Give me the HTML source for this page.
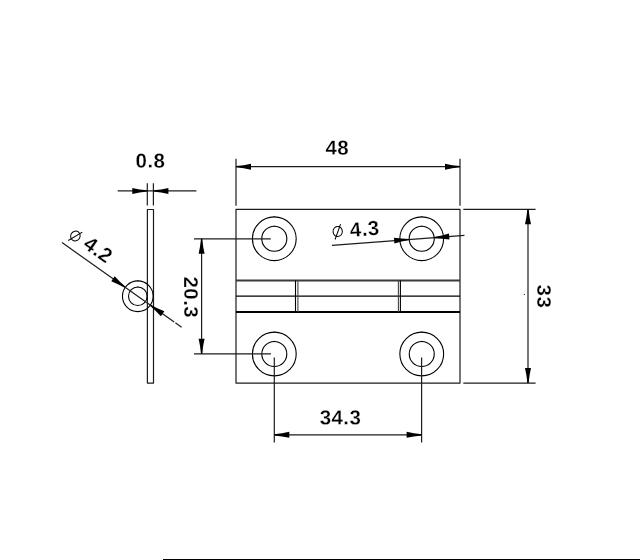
<!DOCTYPE html>
<html>
<head>
<meta charset="utf-8">
<title>Hinge drawing</title>
<style>
html,body{margin:0;padding:0;background:#fff;}
body{width:640px;height:560px;overflow:hidden;position:relative;}
svg{position:absolute;left:0;top:0;display:block;will-change:transform;}
text{font-family:"Liberation Sans",sans-serif;font-weight:bold;font-size:20.5px;fill:#000;stroke:#fff;stroke-width:0.28px;paint-order:fill stroke;letter-spacing:0.45px;}
.l{stroke:#1c1c1c;stroke-width:1.2;fill:none;}
.t{stroke:#000;stroke-width:1.1;fill:none;}
.k{stroke:#000;stroke-width:2;fill:none;}
.a{fill:#000;stroke:none;}
</style>
</head>
<body>
<svg width="640" height="560" viewBox="0 0 640 560">
<defs>
<path id="ah" d="M0 -0.6 Q8 -1.35 15 -3 L15 3 Q8 1.35 0 0.6 Z"/>
</defs>
<rect x="0" y="0" width="640" height="560" fill="#fff"/>

<!-- bottom border line -->
<line x1="163" y1="559.5" x2="640" y2="559.5" stroke="#000" stroke-width="1"/>

<!-- hinge front view -->
<rect class="l" x="236" y="209.35" width="224" height="173.7" stroke-linejoin="round"/>
<line class="k" x1="236" y1="280.6" x2="460" y2="280.6" style="stroke:#3a3a3a"/>
<line class="t" x1="236" y1="296.1" x2="460" y2="296.1"/>
<line class="k" x1="236" y1="311.9" x2="460" y2="311.9"/>
<line class="t" x1="295.5" y1="280.6" x2="295.5" y2="311.9"/>
<line class="t" x1="297.9" y1="280.6" x2="297.9" y2="311.9" style="stroke:#444"/>
<line class="t" x1="398.4" y1="280.6" x2="398.4" y2="311.9" style="stroke:#444"/>
<line class="t" x1="400.4" y1="280.6" x2="400.4" y2="311.9"/>

<!-- holes -->
<g class="t">
<circle cx="274.3" cy="238.75" r="21.9"/><circle cx="274.3" cy="238.75" r="12.55"/>
<circle cx="421.7" cy="238.75" r="21.9"/><circle cx="421.7" cy="238.75" r="12.55"/>
<circle cx="274.3" cy="354" r="21.9"/><circle cx="274.3" cy="354" r="12.5"/>
<circle cx="421.75" cy="354" r="21.9"/><circle cx="421.75" cy="354" r="12.5"/>
</g>

<g fill="#000" opacity="0.55"><rect x="273.65" y="216.20" width="1.3" height="1.3"/><rect x="273.65" y="225.60" width="1.3" height="1.3"/><rect x="421.05" y="216.20" width="1.3" height="1.3"/><rect x="421.05" y="225.60" width="1.3" height="1.3"/><rect x="273.65" y="331.45" width="1.3" height="1.3"/><rect x="273.65" y="340.85" width="1.3" height="1.3"/><rect x="421.10" y="331.45" width="1.3" height="1.3"/><rect x="421.10" y="340.85" width="1.3" height="1.3"/><rect x="137.15" y="280.25" width="1.3" height="1.3"/><rect x="137.15" y="286.30" width="1.3" height="1.3"/></g>
<!-- dim 48 -->
<line class="l" x1="236" y1="158.8" x2="236" y2="205.8"/>
<line class="l" x1="460" y1="158.8" x2="460" y2="205.8"/>
<line class="l" x1="236" y1="166.7" x2="460" y2="166.7"/>
<use class="a" href="#ah" transform="translate(236 166.7)"/>
<use class="a" href="#ah" transform="translate(460 166.7) rotate(180)"/>
<text transform="rotate(0.03 337.3 154.8)" x="337.3" y="154.8" text-anchor="middle">48</text>

<!-- dim 33 -->
<line class="l" x1="463.3" y1="209.4" x2="535.6" y2="209.4"/>
<line class="l" x1="463.3" y1="383.05" x2="535.6" y2="383.05"/>
<line class="l" x1="528" y1="209.4" x2="528" y2="383"/>
<use class="a" href="#ah" transform="translate(528 209.3) rotate(90)"/>
<use class="a" href="#ah" transform="translate(528 383.1) rotate(-90)"/>
<text transform="translate(537 296.4) rotate(90)" x="0" y="0" text-anchor="middle">33</text>
<rect x="523.8" y="293.9" width="1" height="1" fill="#000"/>

<!-- dim 20.3 -->
<line class="l" x1="194" y1="238.8" x2="270.8" y2="238.8"/>
<line class="l" x1="194" y1="353.85" x2="270.9" y2="353.85"/>
<line class="l" x1="201.6" y1="238.8" x2="201.6" y2="353.85"/>
<use class="a" href="#ah" transform="translate(201.6 238.8) rotate(90)"/>
<use class="a" href="#ah" transform="translate(201.6 353.85) rotate(-90)"/>
<text transform="translate(184.1 297.3) rotate(90)" x="0" y="0" text-anchor="middle">20.3</text>

<!-- dim 34.3 -->
<line class="l" x1="274.3" y1="357.4" x2="274.3" y2="442.4"/>
<line class="l" x1="421.6" y1="357.6" x2="421.6" y2="442.4"/>
<line class="l" x1="274.3" y1="434.8" x2="421.6" y2="434.8"/>
<use class="a" href="#ah" transform="translate(274.3 434.8)"/>
<use class="a" href="#ah" transform="translate(421.6 434.8) rotate(180)"/>
<text transform="rotate(0.03 340.5 424.6)" x="340.5" y="424.6" text-anchor="middle">34.3</text>

<!-- dia 4.3 leader -->
<line class="l" x1="332" y1="245.3" x2="464.5" y2="235.3"/>
<g transform="translate(421.7 238.55) rotate(-4.32)">
<use class="a" href="#ah" transform="translate(-12.6 0) rotate(180)"/>
<use class="a" href="#ah" transform="translate(12.6 0)"/>
</g>
<g transform="translate(337.7 231.5) rotate(-4.32)">
<ellipse class="t" cx="0" cy="0" rx="4.65" ry="5.0" style="stroke-width:1"/>
<line class="t" x1="-3.2" y1="7.8" x2="3.4" y2="-7.2" style="stroke-width:1"/>
<text x="12.2" y="6.4">4.3</text>
</g>

<!-- side view -->
<rect class="l" x="147.4" y="209.5" width="6.1" height="173.6" stroke-linejoin="round"/>
<line class="l" x1="147.3" y1="183.3" x2="147.3" y2="205.6"/>
<line class="l" x1="153.4" y1="183.3" x2="153.4" y2="205.6"/>
<line class="l" x1="117.7" y1="190.95" x2="196.4" y2="190.95"/>
<use class="a" href="#ah" transform="translate(147.3 190.9) rotate(180)"/>
<use class="a" href="#ah" transform="translate(153.4 190.9)"/>
<text transform="rotate(0.03 150.5 167.85)" x="150.5" y="167.85" text-anchor="middle">0.8</text>

<g class="t">
<circle cx="137.8" cy="296.25" r="15.35"/><circle cx="137.8" cy="296.25" r="9.3"/>
</g>
<line class="l" x1="62" y1="242.6" x2="174.2" y2="322"/>
<line class="l" x1="175.4" y1="322.8" x2="181.6" y2="327.2"/>
<g transform="translate(137.8 296.25) rotate(35.3)">
<use class="a" href="#ah" transform="translate(-15.4 0) rotate(180)"/>
<use class="a" href="#ah" transform="translate(15.4 0)"/>
</g>
<g transform="translate(75.4 236) rotate(35.3)">
<ellipse class="t" cx="0" cy="0" rx="4.65" ry="5.0" style="stroke-width:1"/>
<line class="t" x1="-3.2" y1="7.8" x2="3.4" y2="-7.2" style="stroke-width:1"/>
<text x="11.6" y="5.0">4.2</text>
</g>
</svg>
</body>
</html>
